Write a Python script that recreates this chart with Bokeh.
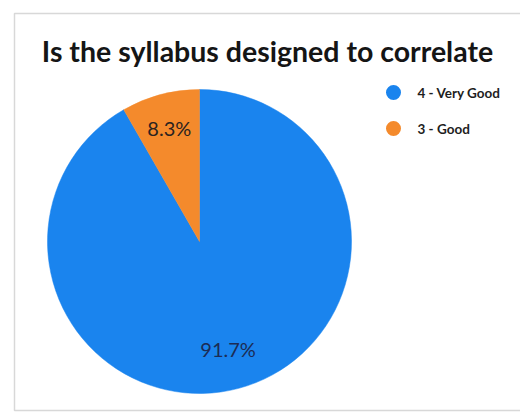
import numpy as np
from bokeh.plotting import figure
from bokeh.models import Range1d
from bokeh.core.properties import value
from bokeh.embed import file_html
from bokeh.resources import INLINE

title = "Is the syllabus designed to correlate"
categories = ["4 - Very Good", "3 - Good"]
percents = [91.7, 8.3]
colors = ["#1a84ee", "#f48a2c"]
label_colors = ["#1c2c55", "#2b2320"]

W, H = 520, 413
p = figure(width=W, height=H, output_backend="svg", toolbar_location=None,
           x_range=Range1d(0, W), y_range=Range1d(0, H), min_border=0)
p.axis.visible = False
p.grid.visible = False
p.outline_line_color = None
p.background_fill_color = "white"
p.border_fill_color = "white"

# card frame
p.quad(left=[14], right=[540], bottom=[3], top=[400], fill_color="white",
       line_color="#d8d8d8", line_width=1.5)

cx, cy, r = 199, 172, 152
frac = np.array(percents) / sum(percents)
good_start = np.pi / 2
good_end = good_start + frac[1] * 2 * np.pi
starts = [good_end, good_start]
ends = [good_start + 2 * np.pi, good_end]
p.wedge(x=[cx, cx], y=[cy, cy], radius=r, start_angle=starts, end_angle=ends,
        fill_color=colors, line_color=colors, line_width=0.5)

mids = [(s + e) / 2 for s, e in zip(starts, ends)]
lr = [0.73 * r, 0.77 * r]
lx = [cx + rr * np.cos(m) for rr, m in zip(lr, mids)]
ly = [cy + rr * np.sin(m) for rr, m in zip(lr, mids)]
p.text(x=lx, y=ly, text=[f"{v:.1f}%" for v in percents], text_color=label_colors,
       text_font=value("Lato"), text_font_size="20px", text_align="center",
       text_baseline="middle")

p.text(x=[267], y=[363], text=[title], text_font=value("Lato"), text_font_style="bold",
       text_font_size="28.5px", text_color="#151515", text_align="center",
       text_baseline="middle")

leg_y = [321, 285]
p.scatter(x=[393, 393], y=leg_y, marker="circle", size=15, fill_color=colors,
          line_color=None)
p.text(x=[417, 417], y=leg_y, text=categories, text_font=value("Lato"),
       text_font_style="bold", text_font_size="13.5px", text_color="#1e1e1e",
       text_align="left", text_baseline="middle")

open("out.html", "w").write(file_html(p, INLINE))
